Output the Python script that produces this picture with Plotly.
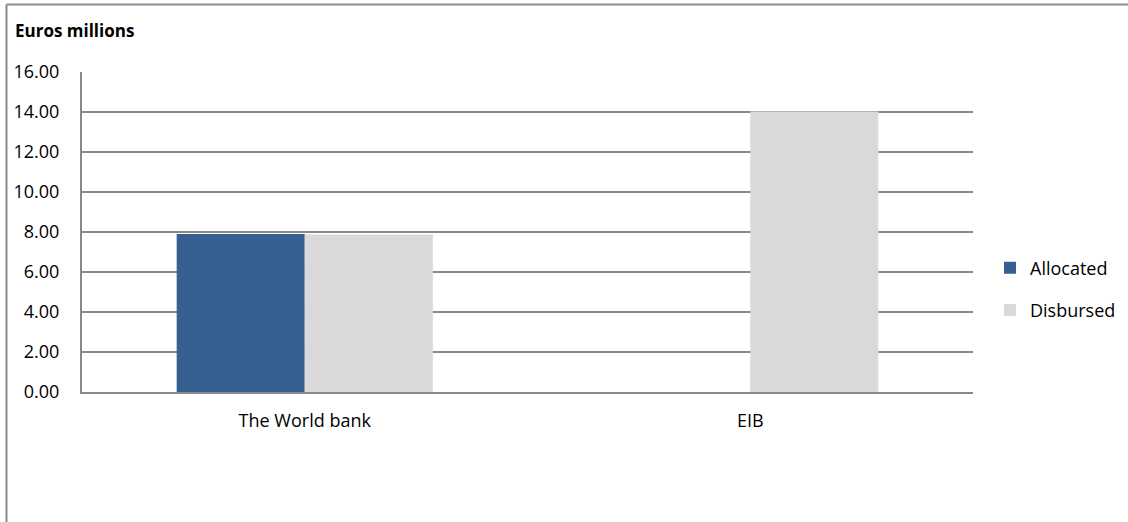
import plotly.graph_objects as go

categories = ["The World bank", "EIB"]
allocated = [7.90, 0.0]
disbursed = [7.87, 14.03]
tick_vals = [0, 2, 4, 6, 8, 10, 12, 14, 16]
tick_text = ["0.00", "2.00", "4.00", "6.00", "8.00", "10.00", "12.00", "14.00", "16.00"]

FONT = "Open Sans, Liberation Sans, sans-serif"
GRID = "#8a8a8a"

fig = go.Figure()
fig.add_trace(go.Bar(name="Allocated", x=categories, y=allocated,
                     marker=dict(color="#366092", line=dict(width=0)),
                     legendgroup="a"))
fig.add_trace(go.Bar(name="Disbursed", x=categories, y=disbursed,
                     marker=dict(color="#D9D9D9", line=dict(width=0)),
                     legendgroup="d"))

W, H = 1128, 522
L, R, T, B = 82, 155, 72, 130
pw, ph = W - L - R, H - T - B

def px2x(px):
    return (px - L) / pw

def py2y(py):
    return (H - B - py) / ph

fig.update_layout(
    width=W, height=H,
    margin=dict(l=L, r=R, t=T, b=B, autoexpand=False),
    paper_bgcolor="white", plot_bgcolor="white",
    barmode="group", bargap=0.425, bargroupgap=0,
    font=dict(family=FONT, size=18, color="#000000"),
    showlegend=True,
    legend=dict(x=px2x(990), y=py2y(289), xanchor="left", yanchor="middle",
                traceorder="grouped", tracegroupgap=16,
                font=dict(family=FONT, size=18, color="#000000"),
                itemwidth=30, bgcolor="rgba(0,0,0,0)"),
    xaxis=dict(showgrid=False, showline=True, linecolor=GRID, linewidth=2,
               ticks="", tickfont=dict(family=FONT, size=18),
               ticklabelstandoff=11, fixedrange=True, automargin=False),
    yaxis=dict(range=[0, 16], tickvals=tick_vals, ticktext=tick_text,
               showgrid=True, gridcolor=GRID, gridwidth=2,
               showline=True, linecolor=GRID, linewidth=2,
               ticks="", tickfont=dict(family=FONT, size=18),
               ticklabelstandoff=17, zeroline=False, fixedrange=True,
               automargin=False),
    annotations=[dict(text="<b>Euros millions</b>", xref="paper", yref="paper",
                      x=px2x(13), y=py2y(31), xanchor="left", yanchor="middle",
                      showarrow=False, font=dict(family=FONT, size=17))],
    shapes=[
        dict(type="line", xref="paper", yref="paper",
             x0=px2x(6.5), x1=px2x(1130), y0=py2y(4.5), y1=py2y(4.5),
             line=dict(color="#8c8c8c", width=2)),
        dict(type="line", xref="paper", yref="paper",
             x0=px2x(6.5), x1=px2x(6.5), y0=py2y(4.5), y1=py2y(524),
             line=dict(color="#8c8c8c", width=2)),
    ],
)

fig.write_html("out.html", config={"displayModeBar": False},
               post_script="document.body.style.margin='0';document.body.style.overflow='hidden';")
